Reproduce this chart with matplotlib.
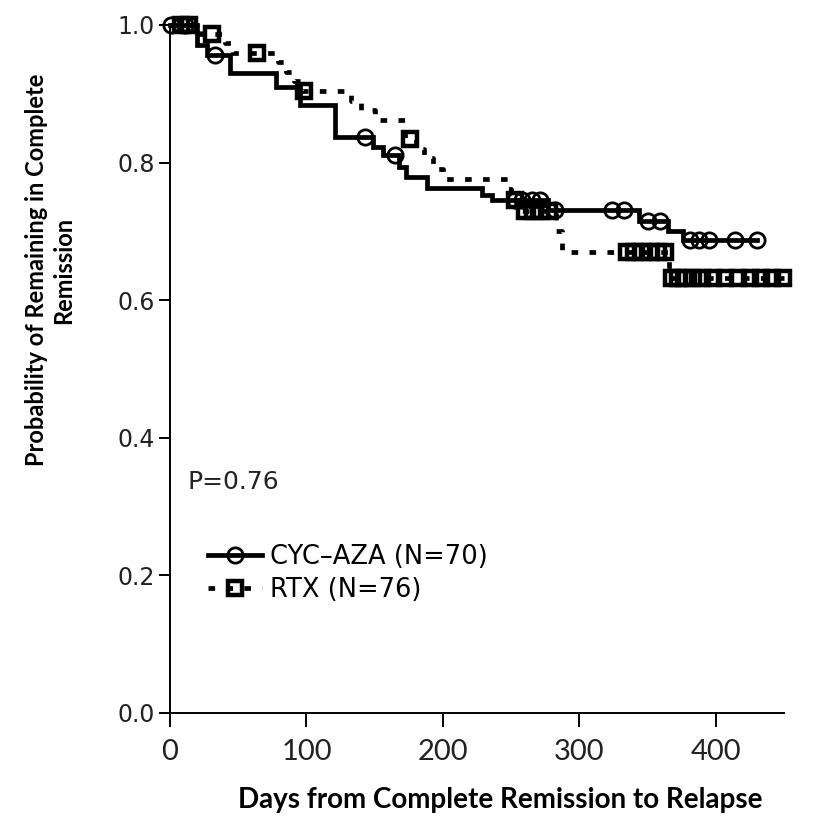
import numpy as np
import matplotlib
matplotlib.use("Agg")
import matplotlib.pyplot as plt
from matplotlib.lines import Line2D

# Kaplan-Meier steps (day, survival after the step)
cyc_days = [0, 20, 27, 44, 78, 95, 121, 149, 156, 168, 173, 188, 229, 236, 277, 344, 365, 376]
cyc_surv = [1.0, 0.971, 0.957, 0.930, 0.910, 0.884, 0.837, 0.823, 0.811, 0.794, 0.779,
            0.763, 0.753, 0.745, 0.731, 0.715, 0.700, 0.688]
cyc_end = 430
cyc_censor = [1, 11, 33, 143, 165, 253, 258, 265, 271, 282, 324, 333, 350, 359,
              381, 388, 395, 414, 430]

rtx_days = [0, 22, 40, 46, 79, 85, 91, 97, 133, 140, 150, 172, 180, 186, 193, 200,
            248, 250, 256, 283, 287, 366]
rtx_surv = [1.0, 0.987, 0.974, 0.960, 0.946, 0.932, 0.918, 0.904, 0.890, 0.876, 0.862,
            0.834, 0.820, 0.806, 0.791, 0.776, 0.761, 0.746, 0.730, 0.700, 0.670, 0.632]
rtx_end = 450
rtx_censor = [8, 14, 31, 64, 98, 176, 253, 260, 266, 272, 278,
              335, 340, 346, 352, 358, 363,
              368, 372, 377, 383, 390, 398, 407, 416, 425, 433, 441, 449]

labels = ["CYC\u2013AZA (N=70)", "RTX (N=76)"]
p_text = "P=0.76"


def surv_at(days, surv, t):
    idx = np.searchsorted(days, t, side="right") - 1
    return np.array(surv)[idx]


fig = plt.figure(figsize=(8.13, 8.25), dpi=100)
ax = fig.add_axes([170 / 813, 1 - 713 / 825, 614 / 813, 688 / 825])

lw = 3.4
# CYC-AZA solid
ax.step(cyc_days + [cyc_end], cyc_surv + [cyc_surv[-1]], where="post",
        color="black", lw=lw, solid_joinstyle="miter", clip_on=False, zorder=3)
ax.plot(cyc_censor, surv_at(cyc_days, cyc_surv, cyc_censor), linestyle="none",
        marker="o", ms=11, mfc="none", mec="black", mew=2.0, clip_on=False, zorder=4)

# RTX dotted
dot = (0, (1.4, 2.4))
ax.step(rtx_days + [rtx_end], rtx_surv + [rtx_surv[-1]], where="post",
        color="black", lw=lw, linestyle=dot, clip_on=False, zorder=3)
ax.plot(rtx_censor, surv_at(rtx_days, rtx_surv, rtx_censor), linestyle="none",
        marker="s", ms=10, mfc="none", mec="black", mew=3.2, clip_on=False, zorder=4)

ax.set_xlim(0, 450)
ax.set_ylim(0, 1.0)
ax.set_xticks([0, 100, 200, 300, 400])
ax.set_yticks([0.0, 0.2, 0.4, 0.6, 0.8, 1.0])
ax.set_yticklabels([f"{v:.1f}" for v in [0.0, 0.2, 0.4, 0.6, 0.8, 1.0]],
                   fontsize=17, family="DejaVu Sans", color="#222222")
ax.set_xticklabels(["0", "100", "200", "300", "400"], fontsize=21,
                   family="Lato", color="#222222")

for side in ["top", "right"]:
    ax.spines[side].set_visible(False)
for side in ["left", "bottom"]:
    ax.spines[side].set_linewidth(1.4)
ax.tick_params(direction="out", width=1.4)
ax.tick_params(axis="x", length=10, pad=9)
ax.tick_params(axis="y", length=8, pad=3)

ax.text(13, 0.325, p_text, fontsize=18, family="DejaVu Sans", color="#222222")

handles = [
    Line2D([], [], color="black", lw=lw, marker="o", ms=11, mfc="none", mec="black", mew=2.0),
    Line2D([], [], color="black", lw=lw, linestyle=dot, marker="s", ms=10, mfc="none",
           mec="black", mew=3.2),
]
ax.legend(handles, labels, loc="upper left", bbox_to_anchor=(0.025, 0.279),
          frameon=False, handlelength=2.1, handletextpad=0.3,
          labelspacing=0.25, numpoints=1, prop={"family": "DejaVu Sans", "size": 18.5})

fig.text(50 / 813, 1 - 270 / 825, "Probability of Remaining in Complete\nRemission",
         rotation=90, ha="center", va="center", multialignment="center",
         fontsize=17, fontweight="bold", family="Lato")
fig.text(500 / 813, 1 - 800 / 825, "Days from Complete Remission to Relapse",
         ha="center", va="center", fontsize=20, fontweight="bold", family="Lato")

fig.savefig("out.png", dpi=100, facecolor="white")
